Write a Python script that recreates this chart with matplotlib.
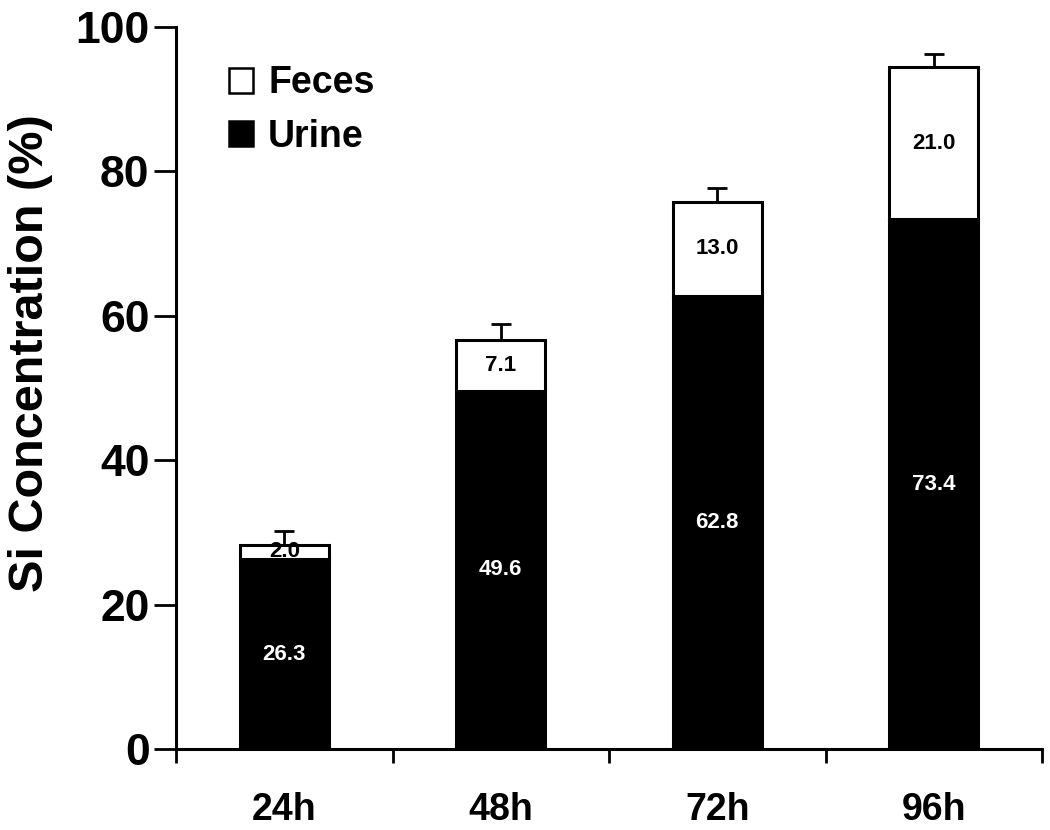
import matplotlib
matplotlib.use('Agg')
import matplotlib.pyplot as plt
from matplotlib.patches import Patch
import numpy as np

plt.rcParams['font.family'] = ['Liberation Sans', 'DejaVu Sans']
plt.rcParams['font.weight'] = 'bold'

# data
categories = ['24h', '48h', '72h', '96h']
urine = [26.3, 49.6, 62.8, 73.4]
feces = [2.0, 7.1, 13.0, 21.0]
err_up = [1.9, 2.1, 1.9, 1.8]
yticks = [0, 20, 40, 60, 80, 100]

fig = plt.figure(figsize=(10.5, 8.3), dpi=100)
ax = fig.add_axes([176 / 1050, 1 - 749 / 830, 866 / 1050, (749 - 27) / 830])

x = np.arange(len(categories))
width = 0.41
urine_bars = ax.bar(x, urine, width, color='black', edgecolor='black', linewidth=2.2, zorder=2)
feces_bars = ax.bar(x, feces, width, bottom=urine, color='white', edgecolor='black',
                    linewidth=2.2, zorder=2)

totals = np.array(urine) + np.array(feces)
ax.errorbar(x, totals, yerr=[np.zeros(len(x)), err_up], fmt='none', ecolor='black',
            elinewidth=2.0, capsize=7, capthick=2.0, zorder=3)

# value labels centred in each segment (the 24h feces label is clipped by its thin bar)
for xi, u, f, fb in zip(x, urine, feces, feces_bars):
    ax.text(xi, u / 2, f'{u:.1f}', ha='center', va='center', color='white',
            fontsize=16, fontweight='bold', zorder=4)
    t = ax.text(xi, u + f / 2, f'{f:.1f}', ha='center', va='center', color='black',
                fontsize=16, fontweight='bold', zorder=4)
    t.set_clip_path(fb)

ax.set_xlim(-0.5, 3.5)
ax.set_ylim(0, 100)
ax.set_yticks(yticks)
ax.tick_params(axis='y', direction='out', length=16, width=2, pad=3, labelsize=32)
ax.set_xticks(x)
ax.set_xticklabels(categories)
ax.tick_params(axis='x', which='major', length=0, pad=31, labelsize=27)
ax.set_xticks(np.arange(-0.5, 4.0, 1.0), minor=True)
ax.tick_params(axis='x', which='minor', direction='out', length=10, width=2)

for side in ['top', 'right']:
    ax.spines[side].set_visible(False)
for side in ['left', 'bottom']:
    ax.spines[side].set_linewidth(2.2)

fig.text(31 / 1050, 1 - 353 / 830, 'Si Concentration (%)', rotation=90, ha='center',
         va='center', fontsize=35, fontweight='bold')

handles = [Patch(facecolor='white', edgecolor='black', linewidth=1.8, label='Feces'),
           Patch(facecolor='black', edgecolor='black', linewidth=1.8, label='Urine')]
ax.legend(handles=handles, loc='upper left', bbox_to_anchor=(0.061, 0.947), frameon=False,
          fontsize=27, handlelength=0.65, handleheight=0.65, handletextpad=0.4,
          labelspacing=0.46, borderpad=0, borderaxespad=0)

fig.savefig('out.png', dpi=100)
